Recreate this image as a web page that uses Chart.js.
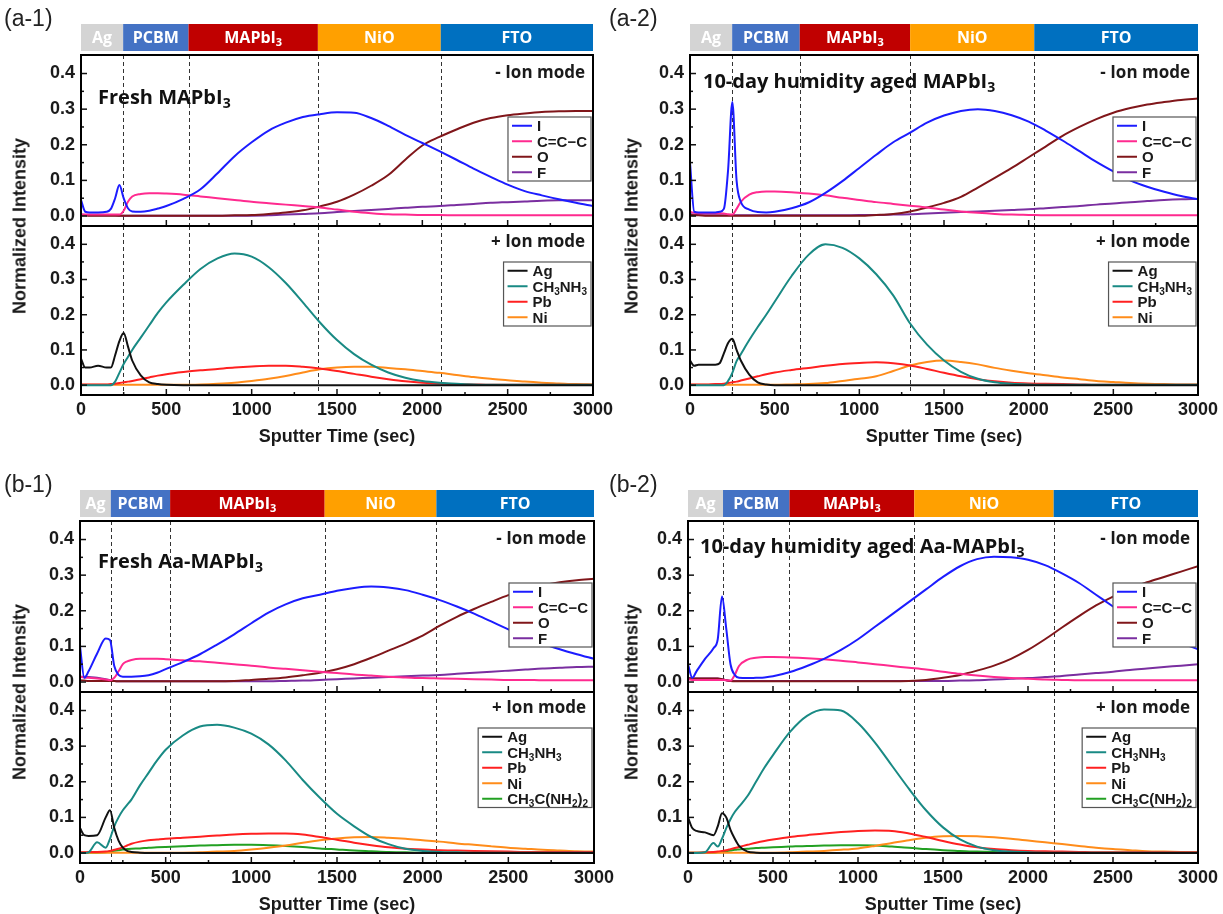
<!DOCTYPE html>
<html>
<head>
<meta charset="utf-8">
<title>ToF-SIMS depth profiles</title>
<script src="https://cdn.jsdelivr.net/npm/chart.js@4.4.1/dist/chart.umd.min.js"></script>
<style>
  body { margin: 0; background: #fff; }
  #page { position: relative; width: 1223px; height: 914px; overflow: hidden; background: #fff; }
  canvas { position: absolute; }
  .ytitle { position: absolute; font: bold 18px "Liberation Sans", Arial, sans-serif; color: #1a1a1a;
            white-space: nowrap; transform: translate(-50%, -50%) rotate(-90deg); }
</style>
</head>
<body>
<div id="page"></div>
<script>
// sputter time grid (sec), shared by every trace
var T = [0, 25, 50, 100, 150, 175, 200, 225, 250, 275, 300, 350, 400, 450, 500,
  600, 700, 800, 900, 1000, 1100, 1200, 1300, 1400, 1500, 1600, 1700, 1800, 1900, 2000,
  2100, 2200, 2300, 2400, 2500, 2600, 2700, 2800, 2900, 3000];

var XTICKS = [0, 500, 1000, 1500, 2000, 2500, 3000];
var YTICKS = [0, 0.1, 0.2, 0.3, 0.4];

var LAYERS = ['Ag', 'PCBM', 'MAPbI_3', 'NiO', 'FTO'];
var NEG_NAMES = ['I', 'C=C\u2212C', 'O', 'F'];
var POS_NAMES = ['Ag', 'CH_3NH_3', 'Pb', 'Ni', 'CH_3C(NH_2)_2'];

// (a-1) fresh MAPbI3
var a1_bounds = [247, 630, 1388, 2108];
var a1_I = [0.045, 0.012, 0.010, 0.010, 0.012, 0.020, 0.050, 0.087, 0.050, 0.022, 0.013, 0.012, 0.015, 0.021, 0.028,
  0.048, 0.075, 0.120, 0.168, 0.207, 0.240, 0.262, 0.278, 0.286, 0.291, 0.290, 0.275, 0.253, 0.228, 0.205,
  0.182, 0.158, 0.133, 0.110, 0.088, 0.070, 0.058, 0.047, 0.037, 0.028];
var a1_CCC = [0.005, 0.004, 0.004, 0.004, 0.004, 0.004, 0.004, 0.004, 0.015, 0.040, 0.055, 0.062, 0.064, 0.064, 0.063,
  0.060, 0.055, 0.050, 0.045, 0.040, 0.036, 0.032, 0.028, 0.024, 0.018, 0.012, 0.008, 0.005, 0.004, 0.003,
  0.003, 0.002, 0.002, 0.002, 0.002, 0.002, 0.002, 0.002, 0.002, 0.002];
var a1_O = [0.003, 0.002, 0.001, 0.001, 0.001, 0.001, 0.001, 0.001, 0.001, 0.001, 0.001, 0.001, 0.001, 0.001, 0.001,
  0.001, 0.001, 0.001, 0.002, 0.003, 0.006, 0.010, 0.016, 0.027, 0.040, 0.060, 0.085, 0.115, 0.158, 0.198,
  0.222, 0.243, 0.262, 0.275, 0.283, 0.288, 0.292, 0.294, 0.295, 0.295];
var a1_F = [0.004, 0.003, 0.002, 0.002, 0.002, 0.002, 0.002, 0.001, 0.001, 0.001, 0.001, 0.001, 0.001, 0.001, 0.001,
  0.001, 0.001, 0.001, 0.001, 0.001, 0.002, 0.004, 0.006, 0.008, 0.011, 0.014, 0.017, 0.020, 0.023, 0.026,
  0.028, 0.031, 0.034, 0.037, 0.039, 0.041, 0.043, 0.044, 0.044, 0.044];
var a1_Ag = [0.075, 0.050, 0.050, 0.055, 0.050, 0.050, 0.085, 0.125, 0.148, 0.110, 0.070, 0.028, 0.008, 0.003, 0.001,
  0, 0, 0, 0, 0, 0, 0, 0, 0, 0, 0, 0, 0, 0, 0,
  0, 0, 0, 0, 0, 0, 0, 0, 0, 0];
var a1_MA = [0, 0, 0, 0, 0, 0, 0.010, 0.035, 0.060, 0.080, 0.100, 0.135, 0.170, 0.205, 0.235,
  0.285, 0.330, 0.360, 0.374, 0.365, 0.335, 0.290, 0.235, 0.178, 0.128, 0.088, 0.058, 0.036, 0.021, 0.012,
  0.007, 0.004, 0.002, 0.001, 0.001, 0.001, 0.001, 0.001, 0.001, 0.001];
var a1_Pb = [0.002, 0.002, 0.002, 0.002, 0.002, 0.003, 0.004, 0.006, 0.008, 0.010, 0.012, 0.017, 0.022, 0.027, 0.031,
  0.037, 0.042, 0.046, 0.050, 0.053, 0.055, 0.055, 0.052, 0.047, 0.040, 0.032, 0.024, 0.017, 0.011, 0.007,
  0.005, 0.003, 0.002, 0.001, 0.001, 0.001, 0.001, 0.001, 0.001, 0.001];
var a1_Ni = [0.001, 0.001, 0.001, 0.001, 0.001, 0.001, 0.001, 0.001, 0.001, 0.001, 0.001, 0.001, 0.001, 0.001, 0.001,
  0.001, 0.002, 0.004, 0.007, 0.012, 0.018, 0.026, 0.036, 0.045, 0.050, 0.052, 0.052, 0.049, 0.045, 0.040,
  0.035, 0.029, 0.023, 0.018, 0.014, 0.010, 0.007, 0.005, 0.003, 0.002];

// (a-2) 10-day humidity aged MAPbI3
var a2_bounds = [249, 648, 1300, 2033];
var a2_I = [0.150, 0.012, 0.010, 0.010, 0.010, 0.012, 0.020, 0.130, 0.320, 0.100, 0.040, 0.018, 0.011, 0.010, 0.012,
  0.022, 0.038, 0.065, 0.098, 0.135, 0.172, 0.207, 0.234, 0.262, 0.282, 0.295, 0.300, 0.295, 0.283, 0.265,
  0.240, 0.212, 0.182, 0.152, 0.125, 0.100, 0.082, 0.068, 0.056, 0.047];
var a2_CCC = [0.012, 0.009, 0.008, 0.008, 0.008, 0.008, 0.007, 0.005, 0.004, 0.020, 0.040, 0.060, 0.067, 0.069, 0.069,
  0.067, 0.063, 0.058, 0.051, 0.045, 0.039, 0.034, 0.029, 0.024, 0.018, 0.013, 0.009, 0.006, 0.004, 0.003,
  0.002, 0.002, 0.002, 0.002, 0.002, 0.002, 0.002, 0.002, 0.002, 0.002];
var a2_O = [0.003, 0.002, 0.002, 0.001, 0.001, 0.001, 0.001, 0.001, 0.001, 0.001, 0.001, 0.001, 0.001, 0.001, 0.001,
  0.001, 0.001, 0.001, 0.001, 0.001, 0.003, 0.006, 0.013, 0.024, 0.037, 0.054, 0.080, 0.107, 0.135, 0.165,
  0.195, 0.225, 0.250, 0.272, 0.290, 0.303, 0.313, 0.320, 0.326, 0.330];
var a2_F = [0.006, 0.004, 0.003, 0.002, 0.002, 0.002, 0.002, 0.002, 0.002, 0.002, 0.002, 0.002, 0.002, 0.002, 0.002,
  0.002, 0.002, 0.002, 0.002, 0.003, 0.003, 0.004, 0.005, 0.007, 0.009, 0.011, 0.013, 0.015, 0.017, 0.019,
  0.022, 0.025, 0.028, 0.032, 0.035, 0.039, 0.042, 0.045, 0.047, 0.048];
var a2_Ag = [0.070, 0.055, 0.058, 0.058, 0.058, 0.062, 0.090, 0.120, 0.132, 0.100, 0.070, 0.030, 0.008, 0.002, 0,
  0, 0, 0, 0, 0, 0, 0, 0, 0, 0, 0, 0, 0, 0, 0,
  0, 0, 0, 0, 0, 0, 0, 0, 0, 0];
var a2_MA = [0, 0, 0, 0, 0, 0, 0, 0.012, 0.035, 0.068, 0.088, 0.128, 0.165, 0.200, 0.237,
  0.310, 0.370, 0.400, 0.390, 0.360, 0.315, 0.255, 0.175, 0.115, 0.070, 0.038, 0.018, 0.008, 0.004, 0.002,
  0.001, 0.001, 0.001, 0.001, 0.001, 0.001, 0.001, 0.001, 0.001, 0.001];
var a2_Pb = [0.002, 0.002, 0.002, 0.002, 0.003, 0.003, 0.004, 0.006, 0.008, 0.010, 0.013, 0.019, 0.025, 0.031, 0.036,
  0.043, 0.049, 0.055, 0.060, 0.063, 0.065, 0.062, 0.056, 0.046, 0.035, 0.025, 0.017, 0.011, 0.007, 0.005,
  0.004, 0.003, 0.002, 0.001, 0.001, 0.001, 0.001, 0.001, 0.001, 0.001];
var a2_Ni = [0.001, 0.001, 0.001, 0.001, 0.001, 0.001, 0.001, 0.001, 0.001, 0.001, 0.001, 0.001, 0.001, 0.001, 0.001,
  0.002, 0.003, 0.006, 0.012, 0.018, 0.025, 0.040, 0.056, 0.066, 0.070, 0.066, 0.059, 0.049, 0.041, 0.034,
  0.028, 0.022, 0.017, 0.012, 0.009, 0.006, 0.004, 0.003, 0.002, 0.002];

// (b-1) fresh Aa-MAPbI3
var b1_bounds = [180, 526, 1428, 2080];
var b1_I = [0.100, 0.012, 0.030, 0.080, 0.122, 0.118, 0.045, 0.020, 0.015, 0.015, 0.015, 0.016, 0.019, 0.026, 0.036,
  0.056, 0.078, 0.105, 0.134, 0.165, 0.195, 0.218, 0.235, 0.245, 0.256, 0.264, 0.268, 0.265, 0.258, 0.245,
  0.230, 0.212, 0.192, 0.170, 0.148, 0.127, 0.108, 0.092, 0.078, 0.065];
var b1_CCC = [0.015, 0.013, 0.012, 0.010, 0.007, 0.005, 0.012, 0.030, 0.050, 0.058, 0.062, 0.065, 0.065, 0.065, 0.064,
  0.061, 0.058, 0.054, 0.050, 0.046, 0.041, 0.037, 0.033, 0.029, 0.025, 0.021, 0.018, 0.015, 0.013, 0.011,
  0.010, 0.009, 0.008, 0.007, 0.006, 0.006, 0.005, 0.005, 0.005, 0.005];
var b1_O = [0.005, 0.004, 0.003, 0.003, 0.003, 0.003, 0.003, 0.002, 0.002, 0.002, 0.002, 0.002, 0.002, 0.002, 0.002,
  0.002, 0.002, 0.002, 0.003, 0.006, 0.009, 0.013, 0.019, 0.026, 0.036, 0.050, 0.068, 0.088, 0.108, 0.130,
  0.158, 0.183, 0.205, 0.225, 0.244, 0.259, 0.271, 0.280, 0.286, 0.290];
var b1_F = [0.015, 0.015, 0.014, 0.012, 0.008, 0.005, 0.003, 0.002, 0.002, 0.002, 0.002, 0.002, 0.002, 0.002, 0.002,
  0.002, 0.002, 0.002, 0.002, 0.002, 0.002, 0.003, 0.004, 0.006, 0.008, 0.010, 0.012, 0.014, 0.016, 0.018,
  0.020, 0.023, 0.026, 0.029, 0.032, 0.035, 0.038, 0.040, 0.042, 0.043];
var b1_Ag = [0.070, 0.050, 0.048, 0.050, 0.100, 0.120, 0.070, 0.035, 0.015, 0.006, 0.003, 0.001, 0, 0, 0,
  0, 0, 0, 0, 0, 0, 0, 0, 0, 0, 0, 0, 0, 0, 0,
  0, 0, 0, 0, 0, 0, 0, 0, 0, 0];
var b1_MA = [0, 0, 0.002, 0.030, 0.015, 0.040, 0.075, 0.100, 0.120, 0.135, 0.150, 0.190, 0.225, 0.260, 0.290,
  0.330, 0.355, 0.360, 0.352, 0.335, 0.305, 0.260, 0.205, 0.155, 0.110, 0.075, 0.045, 0.025, 0.012, 0.006,
  0.003, 0.002, 0.001, 0.001, 0.001, 0.001, 0.001, 0.001, 0.001, 0.001];
var b1_Pb = [0.002, 0.002, 0.003, 0.003, 0.004, 0.006, 0.009, 0.012, 0.016, 0.021, 0.026, 0.032, 0.036, 0.038, 0.040,
  0.043, 0.046, 0.049, 0.052, 0.054, 0.055, 0.055, 0.052, 0.045, 0.037, 0.029, 0.022, 0.016, 0.012, 0.010,
  0.008, 0.007, 0.006, 0.005, 0.004, 0.003, 0.003, 0.003, 0.003, 0.003];
var b1_Ni = [0.001, 0.001, 0.001, 0.001, 0.001, 0.001, 0.001, 0.001, 0.001, 0.001, 0.001, 0.001, 0.001, 0.001, 0.001,
  0.001, 0.002, 0.004, 0.006, 0.010, 0.015, 0.021, 0.029, 0.036, 0.041, 0.044, 0.045, 0.043, 0.040, 0.036,
  0.032, 0.027, 0.023, 0.019, 0.015, 0.012, 0.009, 0.007, 0.005, 0.004];
var b1_FA = [0.001, 0.001, 0.001, 0.001, 0.002, 0.004, 0.006, 0.008, 0.010, 0.011, 0.012, 0.013, 0.015, 0.016, 0.017,
  0.019, 0.021, 0.022, 0.023, 0.023, 0.022, 0.020, 0.017, 0.013, 0.010, 0.007, 0.005, 0.003, 0.002, 0.001,
  0.001, 0.001, 0.001, 0.001, 0.001, 0.001, 0.001, 0.001, 0.001, 0.001];

// (b-2) 10-day humidity aged Aa-MAPbI3
var b2_bounds = [206, 597, 1331, 2151];
var b2_I = [0.050, 0.012, 0.030, 0.065, 0.095, 0.120, 0.240, 0.150, 0.050, 0.020, 0.012, 0.011, 0.012, 0.013, 0.016,
  0.028, 0.045, 0.065, 0.090, 0.120, 0.155, 0.190, 0.225, 0.260, 0.295, 0.325, 0.345, 0.352, 0.350, 0.343,
  0.328, 0.305, 0.278, 0.245, 0.212, 0.180, 0.155, 0.132, 0.110, 0.092];
var b2_CCC = [0.008, 0.006, 0.006, 0.006, 0.006, 0.006, 0.006, 0.005, 0.004, 0.020, 0.045, 0.063, 0.068, 0.070, 0.070,
  0.069, 0.067, 0.064, 0.060, 0.055, 0.050, 0.045, 0.040, 0.035, 0.029, 0.023, 0.018, 0.014, 0.011, 0.009,
  0.007, 0.006, 0.005, 0.005, 0.005, 0.005, 0.005, 0.005, 0.005, 0.005];
var b2_O = [0.010, 0.010, 0.010, 0.010, 0.010, 0.010, 0.008, 0.005, 0.003, 0.002, 0.002, 0.002, 0.002, 0.002, 0.002,
  0.002, 0.002, 0.002, 0.002, 0.002, 0.002, 0.002, 0.003, 0.006, 0.012, 0.020, 0.032, 0.046, 0.065, 0.090,
  0.120, 0.153, 0.185, 0.215, 0.240, 0.262, 0.280, 0.295, 0.310, 0.325];
var b2_F = [0.012, 0.010, 0.010, 0.010, 0.010, 0.010, 0.008, 0.005, 0.003, 0.003, 0.003, 0.003, 0.003, 0.003, 0.003,
  0.003, 0.003, 0.003, 0.003, 0.003, 0.003, 0.003, 0.003, 0.003, 0.003, 0.004, 0.005, 0.007, 0.009, 0.011,
  0.014, 0.017, 0.021, 0.025, 0.029, 0.034, 0.038, 0.042, 0.046, 0.050];
var b2_Ag = [0.100, 0.070, 0.062, 0.058, 0.050, 0.075, 0.112, 0.100, 0.065, 0.040, 0.020, 0.004, 0.001, 0, 0,
  0, 0, 0, 0, 0, 0, 0, 0, 0, 0, 0, 0, 0, 0, 0,
  0, 0, 0, 0, 0, 0, 0, 0, 0, 0];
var b2_MA = [0, 0, 0, 0.002, 0.028, 0.018, 0.040, 0.070, 0.095, 0.115, 0.130, 0.160, 0.200, 0.240, 0.275,
  0.340, 0.385, 0.403, 0.400, 0.365, 0.310, 0.245, 0.180, 0.120, 0.072, 0.038, 0.018, 0.008, 0.004, 0.002,
  0.001, 0.001, 0.001, 0.001, 0.001, 0.001, 0.001, 0.001, 0.001, 0.001];
var b2_Pb = [0.001, 0.001, 0.001, 0.002, 0.003, 0.004, 0.006, 0.008, 0.011, 0.014, 0.017, 0.023, 0.029, 0.034, 0.038,
  0.045, 0.050, 0.055, 0.059, 0.062, 0.063, 0.062, 0.055, 0.045, 0.034, 0.024, 0.016, 0.011, 0.008, 0.006,
  0.005, 0.004, 0.003, 0.002, 0.002, 0.002, 0.002, 0.002, 0.002, 0.002];
var b2_Ni = [0.001, 0.001, 0.001, 0.001, 0.001, 0.001, 0.001, 0.001, 0.001, 0.001, 0.001, 0.001, 0.001, 0.001, 0.001,
  0.002, 0.004, 0.006, 0.009, 0.013, 0.020, 0.028, 0.036, 0.043, 0.047, 0.048, 0.047, 0.044, 0.040, 0.035,
  0.030, 0.025, 0.020, 0.015, 0.011, 0.008, 0.005, 0.004, 0.003, 0.002];
var b2_FA = [0.001, 0.001, 0.001, 0.001, 0.001, 0.002, 0.003, 0.005, 0.007, 0.009, 0.010, 0.012, 0.014, 0.015, 0.016,
  0.018, 0.020, 0.021, 0.022, 0.022, 0.021, 0.018, 0.015, 0.011, 0.008, 0.006, 0.004, 0.003, 0.002, 0.001,
  0.001, 0.001, 0.001, 0.001, 0.001, 0.001, 0.001, 0.001, 0.001, 0.001];

// styles
var FONT = '"Liberation Sans", Arial, sans-serif';
var OPEN = '"Open Sans", "Liberation Sans", sans-serif';
var LAYER_COLORS = ['#d4d4d4', '#4472c4', '#c00000', '#ffa000', '#0070c0'];
var NEG_COLORS = ['#1c1cff', '#ff2a8f', '#80161a', '#7a2ea0'];
var POS_COLORS = ['#111111', '#198a84', '#ff2020', '#ff8c1a', '#22a022'];

var PANELS = [
  { tag: '(a-1)', x0: 0, x1: 625, left: 81, right: 593, top: 55, mid: 226, bottom: 395,
    sample: 'Fresh MAPbI_3', sdx: 17, sdy: 42, bounds: a1_bounds,
    neg: [a1_I, a1_CCC, a1_O, a1_F], pos: [a1_Ag, a1_MA, a1_Pb, a1_Ni] },
  { tag: '(a-2)', x0: 605, x1: 1223, left: 690, right: 1198, top: 55, mid: 226, bottom: 395,
    sample: '10-day humidity aged MAPbI_3', sdx: 13, sdy: 26, bounds: a2_bounds,
    neg: [a2_I, a2_CCC, a2_O, a2_F], pos: [a2_Ag, a2_MA, a2_Pb, a2_Ni] },
  { tag: '(b-1)', x0: 0, x1: 625, left: 80, right: 594, top: 521, mid: 692, bottom: 863,
    sample: 'Fresh Aa-MAPbI_3', sdx: 18, sdy: 40, bounds: b1_bounds,
    neg: [b1_I, b1_CCC, b1_O, b1_F], pos: [b1_Ag, b1_MA, b1_Pb, b1_Ni, b1_FA] },
  { tag: '(b-2)', x0: 605, x1: 1223, left: 688, right: 1198, top: 521, mid: 692, bottom: 863,
    sample: '10-day humidity aged Aa-MAPbI_3', sdx: 12, sdy: 25, bounds: b2_bounds,
    neg: [b2_I, b2_CCC, b2_O, b2_F], pos: [b2_Ag, b2_MA, b2_Pb, b2_Ni, b2_FA] }
];

var page = document.getElementById('page');
var YW = 40, XH = 60, TOPPAD = 60;

// split "CH_3NH_3" into normal / subscript runs
function richParts(s) {
  var parts = [], buf = '';
  for (var i = 0; i < s.length; i++) {
    if (s[i] === '_') {
      if (buf) parts.push([buf, false]);
      buf = '';
      parts.push([s[i + 1], true]);
      i++;
    } else {
      buf += s[i];
    }
  }
  if (buf) parts.push([buf, false]);
  return parts;
}

function richWidth(ctx, s, size, weight, family) {
  var w = 0;
  richParts(s).forEach(function(p) {
    ctx.font = weight + ' ' + (p[1] ? Math.round(size * 0.68) : size) + 'px ' + family;
    w += ctx.measureText(p[0]).width;
  });
  return w;
}

// yc = vertical centre of the capitals
function drawRich(ctx, s, x, yc, size, weight, family, align) {
  var w = richWidth(ctx, s, size, weight, family);
  var cx = align === 'center' ? x - w / 2 : (align === 'right' ? x - w : x);
  var base = yc + size * 0.36;
  ctx.textAlign = 'left';
  ctx.textBaseline = 'alphabetic';
  richParts(s).forEach(function(p) {
    ctx.font = weight + ' ' + (p[1] ? Math.round(size * 0.68) : size) + 'px ' + family;
    ctx.fillText(p[0], cx, p[1] ? base + size * 0.2 : base);
    cx += ctx.measureText(p[0]).width;
  });
  return w;
}

function decor(p, part) {
  var isTop = part === 'top';
  return {
    id: 'decor',
    beforeDatasetsDraw: function(chart) {
      var ctx = chart.ctx, a = chart.chartArea, x = chart.scales.x;
      ctx.save();
      ctx.strokeStyle = '#333';
      ctx.lineWidth = 1;
      ctx.setLineDash([4, 3]);
      p.bounds.forEach(function(t) {
        var px = Math.round(x.getPixelForValue(t)) + 0.5;
        ctx.beginPath(); ctx.moveTo(px, a.top); ctx.lineTo(px, a.bottom); ctx.stroke();
      });
      ctx.restore();
    },
    afterDraw: function(chart) {
      var ctx = chart.ctx, a = chart.chartArea, x = chart.scales.x, y = chart.scales.y;
      ctx.save();

      // inward tick marks, Origin style
      ctx.strokeStyle = '#111';
      ctx.lineWidth = 1.5;
      function tickX(v, len) {
        var px = x.getPixelForValue(v);
        ctx.beginPath(); ctx.moveTo(px, a.bottom); ctx.lineTo(px, a.bottom - len); ctx.stroke();
      }
      function tickY(v, len) {
        var py = y.getPixelForValue(v);
        ctx.beginPath(); ctx.moveTo(a.left, py); ctx.lineTo(a.left + len, py); ctx.stroke();
      }
      XTICKS.forEach(function(v, i) {
        tickX(v, 6);
        if (i < XTICKS.length - 1) tickX((v + XTICKS[i + 1]) / 2, 3);
      });
      YTICKS.forEach(function(v, i) {
        tickY(v, 6);
        if (i < YTICKS.length - 1) tickY((v + YTICKS[i + 1]) / 2, 3);
      });

      // frame
      ctx.strokeStyle = '#000';
      ctx.lineWidth = 2;
      ctx.strokeRect(a.left, a.top, a.right - a.left, a.bottom - a.top);

      // mode label
      ctx.fillStyle = '#1a1a1a';
      drawRich(ctx, isTop ? '- Ion mode' : '+ Ion mode', a.right - 8, a.top + (isTop ? 17 : 15), 17, 'bold', OPEN, 'right');

      // legend box
      var names = isTop ? NEG_NAMES : POS_NAMES.slice(0, p.pos.length);
      var colors = isTop ? NEG_COLORS : POS_COLORS;
      var rowH = 15.5, fs = 15, maxW = 0;
      names.forEach(function(n) { maxW = Math.max(maxW, richWidth(ctx, n, fs, 'bold', FONT)); });
      var bw = 29 + maxW + 4, bh = names.length * rowH + 2;
      var bx = a.right - 2 - bw, by = a.top + (isTop ? 62 : 36);
      ctx.fillStyle = '#fff';
      ctx.fillRect(bx, by, bw, bh);
      ctx.strokeStyle = '#555';
      ctx.lineWidth = 1.2;
      ctx.strokeRect(bx, by, bw, bh);
      names.forEach(function(n, i) {
        var ry = by + 1 + rowH * (i + 0.5);
        ctx.strokeStyle = colors[i];
        ctx.lineWidth = 2;
        ctx.beginPath(); ctx.moveTo(bx + 4, ry); ctx.lineTo(bx + 24, ry); ctx.stroke();
        ctx.fillStyle = '#1a1a1a';
        drawRich(ctx, n, bx + 29, ry, fs, 'bold', FONT, 'left');
      });

      if (isTop) {
        // sample name
        ctx.fillStyle = '#111';
        drawRich(ctx, p.sample, a.left + p.sdx, a.top + p.sdy, 20, 'bold', OPEN, 'left');

        // layer stack bar above the plot
        var edges = [0].concat(p.bounds, [3000]);
        LAYERS.forEach(function(name, i) {
          var x0 = x.getPixelForValue(edges[i]), x1 = x.getPixelForValue(edges[i + 1]);
          ctx.fillStyle = LAYER_COLORS[i];
          ctx.fillRect(x0, a.top - 31, x1 - x0, 27);
          ctx.fillStyle = '#fff';
          drawRich(ctx, name, (x0 + x1) / 2, a.top - 18, 16, 'bold', OPEN, 'center');
        });

        // panel tag
        ctx.fillStyle = '#222';
        ctx.font = '23px ' + FONT;
        ctx.textAlign = 'left';
        ctx.textBaseline = 'middle';
        ctx.fillText(p.tag, 4, a.top - 35);
      }
      ctx.restore();
    }
  };
}

function makeCanvas(x, y, w, h) {
  var c = document.createElement('canvas');
  c.width = w; c.height = h;
  c.style.left = x + 'px'; c.style.top = y + 'px';
  c.style.width = w + 'px'; c.style.height = h + 'px';
  page.appendChild(c);
  return c;
}

function lineSets(series, colors) {
  return series.map(function(arr, i) {
    return {
      data: T.map(function(t, k) { return { x: t, y: arr[k] }; }),
      borderColor: colors[i],
      borderWidth: 2,
      pointRadius: 0,
      fill: false,
      cubicInterpolationMode: 'monotone'
    };
  });
}

function buildChart(p, part) {
  var isTop = part === 'top';
  var cy = isTop ? p.top - TOPPAD : p.mid;
  var h = isTop ? p.mid - p.top + TOPPAD : p.bottom - p.mid + XH;
  var canvas = makeCanvas(p.x0, cy, p.x1 - p.x0, h);
  return new Chart(canvas, {
    type: 'line',
    data: { datasets: isTop ? lineSets(p.neg, NEG_COLORS) : lineSets(p.pos, POS_COLORS) },
    options: {
      responsive: false,
      animation: false,
      events: [],
      layout: { padding: { left: p.left - p.x0 - YW, right: p.x1 - p.right, top: isTop ? TOPPAD : 0, bottom: 0 } },
      plugins: { legend: { display: false }, tooltip: { enabled: false } },
      scales: {
        x: {
          type: 'linear', min: 0, max: 3000,
          display: !isTop,
          grid: { display: false, drawTicks: false },
          border: { display: false },
          afterBuildTicks: function(s) { s.ticks = XTICKS.map(function(v) { return { value: v }; }); },
          afterFit: function(s) {
            s.paddingLeft = 0; s.paddingRight = 0;
            if (!isTop) s.height = XH;
          },
          ticks: {
            display: !isTop, autoSkip: false, maxRotation: 0, padding: 4, color: '#1a1a1a',
            font: { family: FONT, size: 18, weight: 'bold' },
            callback: function(v) { return String(v); }
          },
          title: {
            display: !isTop, text: 'Sputter Time (sec)', color: '#1a1a1a',
            font: { family: FONT, size: 18, weight: 'bold' },
            padding: { top: 0, bottom: 7 }
          }
        },
        y: {
          min: -0.028, max: 0.452,
          grid: { display: false, drawTicks: false },
          border: { display: false },
          afterBuildTicks: function(s) { s.ticks = YTICKS.map(function(v) { return { value: v }; }); },
          afterFit: function(s) { s.width = YW; s.paddingTop = 0; s.paddingBottom = 0; },
          ticks: {
            padding: 6, color: '#1a1a1a',
            font: { family: FONT, size: 18, weight: 'bold' },
            callback: function(v) { return v.toFixed(1); }
          }
        }
      }
    },
    plugins: [decor(p, part)]
  });
}

PANELS.forEach(function(p) {
  buildChart(p, 'top');
  buildChart(p, 'bottom');
  var t = document.createElement('div');
  t.className = 'ytitle';
  t.textContent = 'Normalized Intensity';
  t.style.left = (p.x0 === 0 ? 20 : 632) + 'px';
  t.style.top = p.mid + 'px';
  page.appendChild(t);
});
</script>
</body>
</html>
